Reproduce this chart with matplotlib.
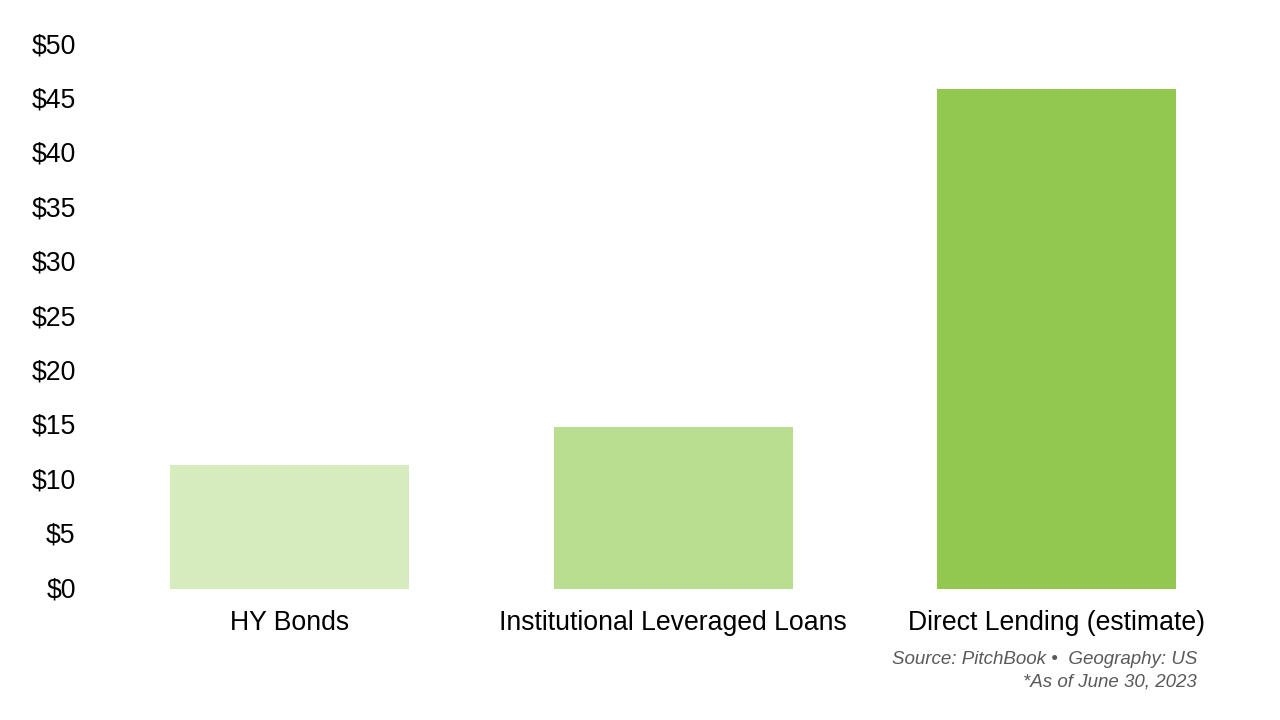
import matplotlib
matplotlib.use("Agg")
import matplotlib.pyplot as plt
import matplotlib.transforms as mtransforms
from matplotlib.ticker import FuncFormatter

categories = ["HY Bonds", "Institutional Leveraged Loans", "Direct Lending (estimate)"]
values = [11.4, 14.9, 46.0]
colors = ["#D6EBBE", "#BADE90", "#92C850"]
yticks = [0, 5, 10, 15, 20, 25, 30, 35, 40, 45, 50]

plt.rcParams['font.family'] = ['Liberation Sans', 'DejaVu Sans']

fig = plt.figure(figsize=(12.8, 7.2), dpi=100)
ax = fig.add_axes([0.0766, 0.1819, 0.8985, 0.7556])
x = list(range(len(categories)))
ax.bar(x, values, width=0.623, color=colors)
ax.set_xlim(-0.5, len(categories) - 0.5)
ax.set_ylim(0, 50)
ax.set_yticks(yticks)
ax.yaxis.set_major_formatter(FuncFormatter(lambda v, p: f"${v:.0f}"))
ax.set_xticks(x)
ax.set_xticklabels(categories)
ax.tick_params(axis='both', length=0, labelsize=19.2, colors='black')
ax.tick_params(axis='y', pad=16)
ax.tick_params(axis='x', pad=15)
for s in ax.spines.values():
    s.set_visible(False)

offset = mtransforms.ScaledTranslation(0, 2 / 100, fig.dpi_scale_trans)
for lbl in ax.get_yticklabels():
    lbl.set_transform(lbl.get_transform() + offset)

fig.text(1197/1280, 1 - 660/720, "Source: PitchBook •  Geography: US", ha='right', va='center',
         fontsize=13.5, style='italic', color='#595959')
fig.text(1197/1280, 1 - 682/720, "*As of June 30, 2023", ha='right', va='center',
         fontsize=13.5, style='italic', color='#595959')

fig.savefig("out.png", dpi=100)
